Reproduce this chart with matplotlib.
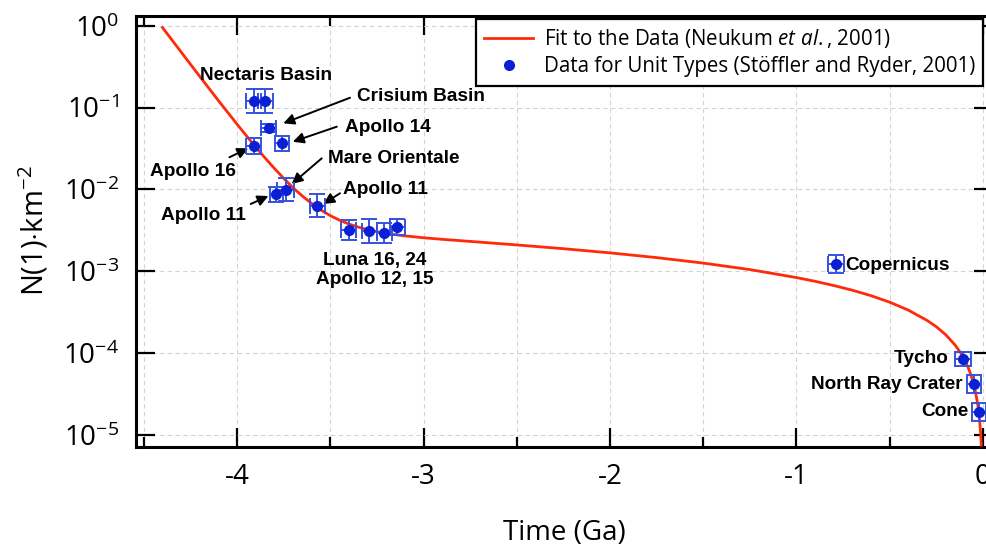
import matplotlib
matplotlib.use("Agg")
import matplotlib.pyplot as plt
from matplotlib.ticker import MultipleLocator, LogLocator, NullLocator
import numpy as np

plt.rcParams['font.family'] = ['Open Sans', 'DejaVu Sans']
plt.rcParams['mathtext.fontset'] = 'custom'
plt.rcParams['mathtext.rm'] = 'Open Sans'
plt.rcParams['mathtext.it'] = 'Open Sans:italic'
plt.rcParams['mathtext.bf'] = 'Open Sans:bold'
plt.rcParams['axes.unicode_minus'] = False

# Fit curve (time in Ga, N(1) per km^2)
fit_time = [-4.40, -4.30, -4.20, -4.10, -4.00, -3.95, -3.90, -3.85, -3.80, -3.75,
            -3.70, -3.65, -3.60, -3.55, -3.50, -3.45, -3.40, -3.35, -3.30, -3.25,
            -3.20, -3.15, -3.10, -3.05, -3.00, -2.90, -2.75, -2.50, -2.25, -2.00,
            -1.75, -1.50, -1.25, -1.00, -0.90, -0.80, -0.70, -0.60, -0.50, -0.40,
            -0.30, -0.25, -0.20, -0.15, -0.12, -0.10, -0.08, -0.065, -0.05, -0.04,
            -0.03, -0.025, -0.02, -0.016, -0.013, -0.011, -0.009]
fit_n = [0.955, 0.479, 0.241, 0.122, 0.0628, 0.0454, 0.0330, 0.0243, 0.0181, 0.0137,
         0.0105, 0.00832, 0.00674, 0.00561, 0.00479, 0.00421, 0.00378, 0.00347, 0.00323, 0.00305,
         0.00291, 0.00280, 0.00271, 0.00264, 0.00257, 0.00246, 0.00232, 0.00210, 0.00189, 0.00168,
         0.00147, 0.00126, 0.00105, 0.000838, 0.000754, 0.000670, 0.000587, 0.000503, 0.000419, 0.000335,
         0.000251, 0.000210, 0.000168, 0.000126, 0.000101, 8.38e-5, 6.70e-5, 5.45e-5, 4.19e-5, 3.35e-5,
         2.51e-5, 2.10e-5, 1.68e-5, 1.34e-5, 1.09e-5, 9.2e-6, 7.5e-6]

# Data points for unit types
pt_names = ["Nectaris A", "Nectaris B", "Crisium", "Apollo 14", "Apollo 16",
            "Apollo 11 a", "Mare Orientale", "Apollo 11 b",
            "Luna 16", "Luna 24", "Apollo 12", "Apollo 15",
            "Copernicus", "Tycho", "North Ray", "Cone"]
pt_time = [-3.91, -3.85, -3.83, -3.76, -3.91,
           -3.79, -3.74, -3.57,
           -3.40, -3.29, -3.21, -3.14,
           -0.79, -0.106, -0.047, -0.020]
pt_n = [0.120, 0.120, 0.056, 0.0367, 0.034,
        0.0087, 0.0099, 0.0063,
        0.0032, 0.00308, 0.00296, 0.00351,
        0.00123, 8.5e-5, 4.2e-5, 1.92e-5]
pt_xerr = [0.04, 0.04, 0.04, 0.036, 0.04,
           0.036, 0.045, 0.04,
           0.04, 0.04, 0.04, 0.04,
           0.043, 0.043, 0.038, 0.038]
pt_yerr_dex = [0.15, 0.15, 0.05, 0.09, 0.095,
               0.09, 0.14, 0.14,
               0.125, 0.145, 0.12, 0.10,
               0.11, 0.085, 0.11, 0.11]

fig = plt.figure(figsize=(9.87, 5.46), dpi=100)
ax = fig.add_axes([0.1378, 0.1819, 0.8683, 0.7894])

ax.set_yscale('log')
ax.set_xlim(-4.542, 0.054)
ax.set_ylim(10**-5.144, 10**0.125)

# grid
ax.xaxis.set_major_locator(MultipleLocator(1.0))
ax.xaxis.set_minor_locator(MultipleLocator(0.5))
ax.yaxis.set_major_locator(LogLocator(base=10, numticks=20))
ax.yaxis.set_minor_locator(NullLocator())
ax.grid(True, which='both', axis='x', color='#d4d4d4', linestyle=(0, (4, 3)), lw=0.8)
ax.grid(True, which='major', axis='y', color='#d4d4d4', linestyle=(0, (4, 3)), lw=0.8)
ax.set_axisbelow(True)

# fit curve
ax.plot(fit_time, fit_n, color='#ff2a0a', lw=2.0, zorder=3,
        label=r'Fit to the Data (Neukum $\it{et\ al.}$, 2001)')

# data points with error bars
pt_n_arr = np.array(pt_n)
ye = np.array(pt_yerr_dex)
lower = pt_n_arr - pt_n_arr / 10**ye
upper = pt_n_arr * 10**ye - pt_n_arr
ax.errorbar(pt_time, pt_n, xerr=pt_xerr, yerr=[lower, upper], fmt='none',
            ecolor='#3552de', elinewidth=1.4, capsize=6, capthick=1.4, zorder=4)
ax.plot(pt_time, pt_n, 'o', color='#0a1fd6', ms=7, zorder=5, ls='none',
        label='Data for Unit Types (Stöffler and Ryder, 2001)')

# spines & ticks
for s in ax.spines.values():
    s.set_linewidth(2.2)
ax.tick_params(which='major', direction='in', length=14, width=1.6,
               top=True, right=True, labelsize=20)
ax.tick_params(axis='x', which='major', pad=12)
ax.tick_params(axis='y', which='major', pad=12)
ax.tick_params(which='minor', direction='in', length=7, width=1.6,
               top=True, right=True)

ax.set_xlabel('Time (Ga)', fontsize=20, labelpad=20)
ax.set_ylabel(r'N(1)$\cdot$km$^{-2}$', fontsize=21, labelpad=9)

# annotations
bold = dict(fontsize=13.7, fontweight='bold', family=['Liberation Sans', 'DejaVu Sans'])
arrow = dict(arrowstyle='-|>', color='black', lw=1.4, mutation_scale=16,
             shrinkA=0, shrinkB=0)

ax.text(-3.847, 10**-0.612, 'Nectaris Basin', ha='center', va='center', **bold)
ax.annotate('', xy=(-3.752, 10**-1.191), xytext=(-3.394, 10**-0.878), arrowprops=arrow)
ax.text(-3.357, 10**-0.866, 'Crisium Basin', ha='left', va='center', **bold)
ax.annotate('', xy=(-3.701, 10**-1.416), xytext=(-3.465, 10**-1.232), arrowprops=arrow)
ax.text(-3.421, 10**-1.244, 'Apollo 14', ha='left', va='center', **bold)
ax.annotate('', xy=(-3.940, 10**-1.496), xytext=(-4.041, 10**-1.606), arrowprops=arrow)
ax.text(-4.239, 10**-1.782, 'Apollo 16', ha='center', va='center', **bold)
ax.annotate('', xy=(-3.707, 10**-1.933), xytext=(-3.546, 10**-1.619), arrowprops=arrow)
ax.text(-3.512, 10**-1.615, 'Mare Orientale', ha='left', va='center', **bold)
ax.annotate('', xy=(-3.537, 10**-2.177), xytext=(-3.448, 10**-2.046), arrowprops=arrow)
ax.text(-3.432, 10**-1.994, 'Apollo 11', ha='left', va='center', **bold)
ax.annotate('', xy=(-3.832, 10**-2.080), xytext=(-3.927, 10**-2.177), arrowprops=arrow)
ax.text(-4.182, 10**-2.312, 'Apollo 11', ha='center', va='center', **bold)
ax.text(-3.262, 10**-2.870, 'Luna 16, 24', ha='center', va='center', **bold)
ax.text(-3.262, 10**-3.098, 'Apollo 12, 15', ha='center', va='center', **bold)
ax.text(-0.740, 10**-2.923, 'Copernicus', ha='left', va='center', **bold)
ax.text(-0.186, 10**-4.064, 'Tycho', ha='right', va='center', **bold)
ax.text(-0.109, 10**-4.381, 'North Ray Crater', ha='right', va='center', **bold)
ax.text(-0.079, 10**-4.716, 'Cone', ha='right', va='center', **bold)

leg = ax.legend(loc='upper right', bbox_to_anchor=(983 / 987, 1 - 19 / 546),
                bbox_transform=fig.transFigure, borderaxespad=0, fontsize=14.8,
                frameon=True, fancybox=False, framealpha=1, edgecolor='black',
                handlelength=2.4, handletextpad=0.5, labelspacing=0.3,
                borderpad=0.4, numpoints=1)
leg.get_frame().set_linewidth(1.6)

fig.savefig('out.png', dpi=100)
